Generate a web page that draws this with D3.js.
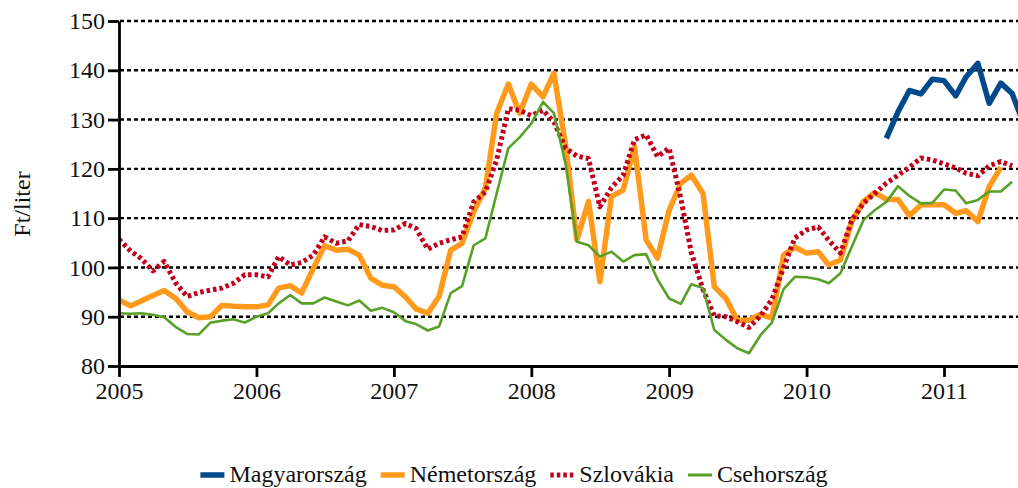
<!DOCTYPE html>
<html>
<head>
<meta charset="utf-8">
<script src="https://cdn.jsdelivr.net/npm/d3@7"></script>
<style>
  body { margin: 0; background: #fff; }
  svg text { font-family: "Liberation Serif", "DejaVu Serif", serif; fill: #111; }
</style>
</head>
<body>
<svg width="1018" height="488"></svg>
<script>
// monthly values, Jan 2005 -> ; null = no data
var startYear = 2005;
var yearTicks = [2005, 2006, 2007, 2008, 2009, 2010, 2011];
var yTicks = [80, 90, 100, 110, 120, 130, 140, 150];

var nemetorszag = [
  93.4, 92.2, 93.2, 94.3, 95.3, 93.7, 91.0, 89.8, 90.0, 92.3, 92.1, 92.0,
  92.0, 92.4, 95.8, 96.3, 94.8, 99.8, 104.4, 103.5, 103.7, 102.5, 97.8, 96.4,
  96.1, 94.0, 91.6, 90.7, 94.1, 103.5, 104.9, 111.3, 116.1, 131.3, 137.2, 131.3,
  137.2, 134.6, 139.4, 124.8, 105.6, 113.4, 97.1, 114.4, 115.7, 124.5, 105.6, 101.9,
  111.6, 117.1, 118.7, 115.0, 96.1, 93.7, 89.3, 89.3, 90.5, 89.7, 102.5, 104.1,
  102.9, 103.2, 100.5, 101.5, 109.3, 113.4, 115.2, 113.8, 113.8, 110.5, 112.7, 112.7,
  112.7, 111.0, 111.5, 109.3, 116.4, 120.3
];

var csehorszag = [
  90.7, 90.6, 90.7, 90.4, 89.9, 87.9, 86.5, 86.4, 88.8, 89.2, 89.5, 88.8,
  90.0, 90.7, 92.7, 94.4, 92.7, 92.7, 93.9, 93.1, 92.3, 93.3, 91.2, 91.8,
  90.9, 89.1, 88.5, 87.2, 88.0, 94.8, 96.2, 104.5, 105.9, 115.0, 124.2, 126.4,
  129.2, 133.6, 131.3, 121.0, 105.2, 104.5, 102.2, 103.2, 101.2, 102.5, 102.7, 97.6,
  93.7, 92.6, 96.6, 95.8, 87.3, 85.3, 83.6, 82.6, 86.3, 88.8, 95.6, 98.1,
  98.0, 97.6, 96.8, 98.8, 104.2, 109.6, 111.6, 113.3, 116.5, 114.5, 113.0, 113.1,
  115.8, 115.6, 113.0, 113.7, 115.4, 115.4, 117.4
];

var szlovakia = [
  105.7, 103.3, 101.8, 99.3, 101.2, 96.8, 94.1, 94.9, 95.4, 95.8, 96.8, 98.5,
  98.5, 98.1, 102.2, 100.5, 101.0, 102.5, 106.2, 104.9, 105.4, 108.7, 108.3, 107.5,
  107.6, 108.9, 107.9, 103.7, 104.9, 105.6, 106.2, 113.3, 115.3, 121.8, 132.2, 131.9,
  130.8, 131.9, 129.5, 124.2, 122.6, 122.1, 112.3, 116.2, 118.7, 125.9, 126.9, 122.5,
  124.2, 114.0, 103.0, 95.5, 90.2, 90.0, 89.0, 87.8, 90.2, 93.5, 100.0, 106.0,
  107.6, 108.2, 105.5, 102.9, 109.6, 113.0, 115.0, 117.1, 118.7, 120.3, 122.2, 121.8,
  121.0, 120.2, 119.1, 118.6, 120.6, 121.5, 120.6
];

// Hungary only from Aug 2010
var magyarorszagStart = 67;
var magyarorszag = [126.2, 131.6, 135.9, 135.2, 138.2, 137.9, 134.8, 138.7, 141.4, 133.3, 137.4, 135.3, 129.0];

var seriesNames = ["Magyarország", "Németország", "Szlovákia", "Csehország"];
var colors = ["#00498a", "#ff9a1c", "#c0001d", "#58a027"];

function toPoints(values, offset) {
    return values.map(function(v, i) {
        return { date: new Date(startYear, (offset || 0) + i, 1), value: v };
    });
}

function draw() {
    var series = [
        { name: seriesNames[1], color: colors[1], width: 5.5, dash: null, data: toPoints(nemetorszag) },
        { name: seriesNames[2], color: colors[2], width: 5, dash: "3.5,3", data: toPoints(szlovakia) },
        { name: seriesNames[3], color: colors[3], width: 2.6, dash: null, data: toPoints(csehorszag) },
        { name: seriesNames[0], color: colors[0], width: 5.5, dash: null, data: toPoints(magyarorszag, magyarorszagStart) }
    ];

    var svg = d3.select("svg");
    var mLeft = 119, mRight = 1018, mTop = 21, mBottom = 366;

    var x = d3.scaleTime()
        .domain([new Date(2005, 0, 1), new Date(2011, 0, 1)])
        .range([mLeft, 944]);
    var y = d3.scaleLinear().domain([80, 150]).range([mBottom, mTop]);

    svg.append("defs").append("clipPath").attr("id", "plot")
        .append("rect").attr("x", mLeft).attr("y", 0)
        .attr("width", mRight - mLeft).attr("height", mBottom + 2);

    // dotted gridlines
    svg.append("g").selectAll("line")
        .data(yTicks.filter(function(d) { return d > 80; }))
        .enter().append("line")
        .attr("x1", mLeft + 1).attr("x2", mRight)
        .attr("y1", function(d) { return y(d); })
        .attr("y2", function(d) { return y(d); })
        .attr("stroke", "#000")
        .attr("stroke-width", 2.4)
        .attr("stroke-dasharray", "4,3");

    var line = d3.line()
        .defined(function(d) { return d.value != null; })
        .x(function(d) { return x(d.date); })
        .y(function(d) { return y(d.value); });

    var linesG = svg.append("g").attr("clip-path", "url(#plot)");
    series.forEach(function(s) {
        linesG.append("path")
            .attr("d", line(s.data))
            .attr("fill", "none")
            .attr("stroke", s.color)
            .attr("stroke-width", s.width)
            .attr("stroke-linejoin", "round")
            .attr("stroke-dasharray", s.dash);
    });

    // axes
    var yAxis = svg.append("g")
        .attr("transform", "translate(" + mLeft + ",0)")
        .call(d3.axisLeft(y).tickValues(yTicks).tickSize(11).tickSizeOuter(0).tickPadding(8));

    var xAxis = svg.append("g")
        .attr("transform", "translate(0," + mBottom + ")")
        .call(d3.axisBottom(x)
            .tickValues(yearTicks.map(function(yr) { return new Date(yr, 0, 1); }))
            .tickFormat(d3.timeFormat("%Y"))
            .tickSize(11).tickSizeOuter(0).tickPadding(5));

    xAxis.select(".domain").attr("d", "M" + mLeft + ",0.5H" + mRight);

    [yAxis, xAxis].forEach(function(a) {
        a.select(".domain").attr("stroke", "#000").attr("stroke-width", 2.8);
        a.selectAll(".tick line").attr("stroke", "#000").attr("stroke-width", 2.8);
        a.selectAll(".tick text")
            .attr("font-size", 24)
            .attr("font-family", "Liberation Serif, serif")
            .attr("fill", "#111");
    });
    yAxis.selectAll(".tick text").attr("x", -14);

    svg.append("text")
        .attr("transform", "translate(30,204) rotate(-90)")
        .attr("text-anchor", "middle")
        .attr("font-size", 24)
        .text("Ft/liter");

    // legend
    var legendOrder = [
        { name: seriesNames[0], color: colors[0], width: 5.5, dash: null },
        { name: seriesNames[1], color: colors[1], width: 5.5, dash: null },
        { name: seriesNames[2], color: colors[2], width: 5, dash: "3.5,3" },
        { name: seriesNames[3], color: colors[3], width: 3, dash: null }
    ];
    var legend = svg.append("g");
    var cx = 0;
    legendOrder.forEach(function(d) {
        var g = legend.append("g").attr("transform", "translate(" + cx + ",0)");
        g.append("line")
            .attr("x1", 0).attr("x2", 24).attr("y1", 475).attr("y2", 475)
            .attr("stroke", d.color).attr("stroke-width", d.width)
            .attr("stroke-dasharray", d.dash);
        var t = g.append("text")
            .attr("x", 29).attr("y", 482)
            .attr("font-size", 24)
            .text(d.name);
        cx += 29 + t.node().getComputedTextLength() + 14;
    });
    var legendWidth = cx - 14;
    legend.attr("transform", "translate(" + (514 - legendWidth / 2) + ",0)");
}

draw();
</script>
</body>
</html>
